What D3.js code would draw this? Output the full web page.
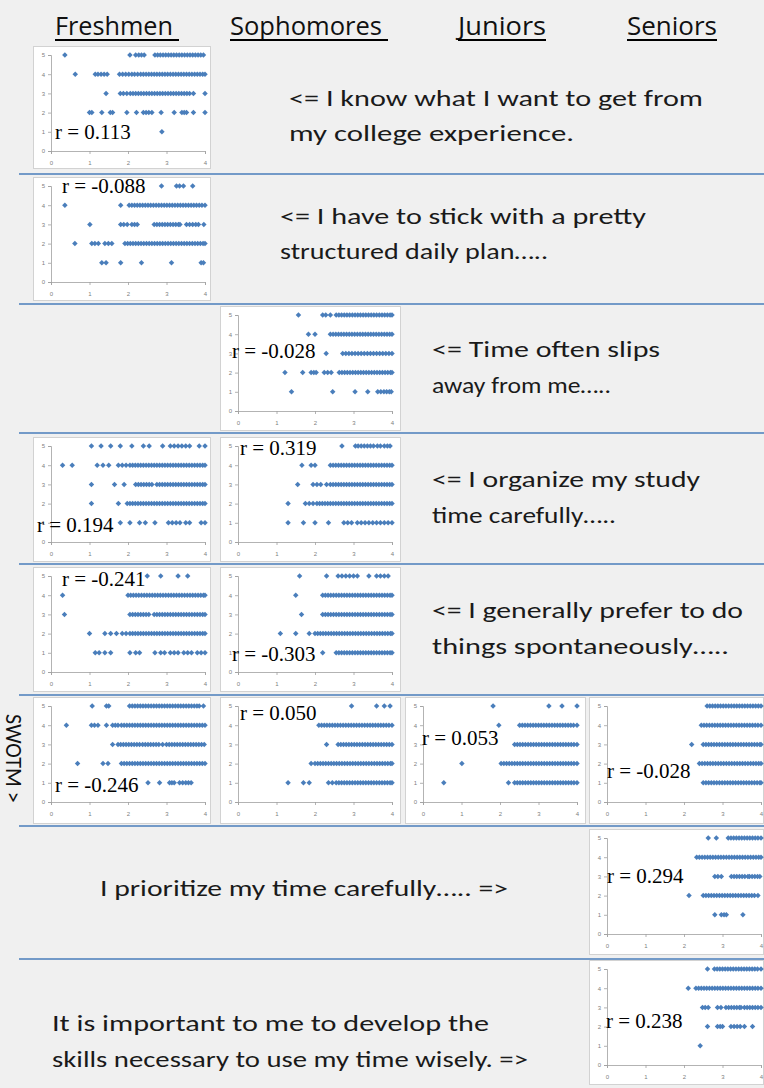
<!DOCTYPE html>
<html>
<head>
<meta charset="utf-8">
<script src="https://cdn.jsdelivr.net/npm/d3@7"></script>
<style>
  body { margin: 0; background: #f0f0f0; }
  svg { display: block; }
</style>
</head>
<body>
<div id="chart"></div>
<script>
// column headers and the statement on each row
const classes = ["Freshmen", "Sophomores", "Juniors", "Seniors"];
const xTicks = [0, 1, 2, 3, 4];
const yTicks = [0, 1, 2, 3, 4, 5];

const statements = [
  ["<= I know what I want to get from", "my college experience."],
  ["<= I have to stick with a pretty", "structured daily plan….."],
  ["<= Time often slips", "away from me….."],
  ["<= I organize my study", "time carefully….."],
  ["<= I generally prefer to do", "things spontaneously….."],
  [],
  ["I prioritize my time carefully….. =>"],
  ["It is important to me to develop the", "skills necessary to use my time wisely.  =>"]
];
const sideLabel = "SWOTM >";

// each panel: GPA values (x) listed per answer level 1..5
const knowFr = [
  [2.88],
  [1.0, 1.06, 1.32, 1.54, 1.6, 1.97, 2.22, 2.4, 2.47, 2.54, 2.62, 2.86, 3.2, 3.4, 3.46, 3.52, 3.7, 4.0],
  [1.43, 1.8, 1.88, 1.97, 2.06, 2.13, 2.2, 2.27, 2.34, 2.41, 2.48, 2.55, 2.62, 2.69, 2.76, 2.83, 2.9, 2.97, 3.04, 3.11, 3.18, 3.25, 3.32, 3.39, 3.46, 3.53, 3.6, 3.7, 4.0],
  [0.63, 1.15, 1.22, 1.3, 1.38, 1.46, 1.78, 1.86, 1.94, 2.02, 2.1, 2.17, 2.25, 2.33, 2.4, 2.47, 2.54, 2.61, 2.68, 2.75, 2.82, 2.89, 2.96, 3.03, 3.1, 3.17, 3.24, 3.31, 3.38, 3.45, 3.52, 3.59, 3.66, 3.73, 3.8, 3.87, 3.94, 4.0],
  [0.36, 2.05, 2.2, 2.28, 2.35, 2.42, 2.7, 2.77, 2.84, 2.91, 2.98, 3.05, 3.12, 3.19, 3.26, 3.33, 3.4, 3.47, 3.54, 3.61, 3.68, 3.75, 3.82, 3.89, 3.96]
];
const planFr = [
  [1.32, 1.43, 1.81, 2.35, 3.13, 3.9, 3.96],
  [0.62, 1.06, 1.14, 1.23, 1.4, 1.49, 1.58, 1.92, 1.99, 2.06, 2.13, 2.2, 2.27, 2.34, 2.41, 2.48, 2.55, 2.62, 2.69, 2.76, 2.83, 2.9, 2.97, 3.04, 3.11, 3.18, 3.25, 3.32, 3.39, 3.46, 3.53, 3.6, 3.67, 3.74, 3.81, 3.88, 3.95, 4.0],
  [1.01, 1.81, 1.89, 1.98, 2.1, 2.17, 2.24, 2.68, 2.75, 2.82, 2.89, 2.96, 3.03, 3.1, 3.17, 3.24, 3.31, 3.35, 3.52, 3.6, 3.68, 3.76, 3.83, 3.97],
  [0.36, 1.81, 2.03, 2.1, 2.17, 2.24, 2.31, 2.38, 2.45, 2.52, 2.59, 2.66, 2.73, 2.8, 2.87, 2.94, 3.01, 3.08, 3.15, 3.22, 3.29, 3.36, 3.43, 3.5, 3.57, 3.64, 3.71, 3.78, 3.85, 3.92, 4.0],
  [2.87, 3.26, 3.34, 3.44, 3.68]
];
const slipsSo = [
  [1.39, 2.46, 3.04, 3.37, 3.63, 3.71, 3.79, 3.86, 3.93, 3.98],
  [1.22, 1.68, 1.9, 1.97, 2.03, 2.24, 2.33, 2.42, 2.63, 2.7, 2.77, 2.84, 2.91, 2.98, 3.05, 3.12, 3.19, 3.26, 3.33, 3.4, 3.47, 3.54, 3.61, 3.68, 3.75, 3.82, 3.89, 3.96, 4.0],
  [2.29, 2.72, 2.8, 2.88, 2.96, 3.04, 3.12, 3.2, 3.28, 3.36, 3.44, 3.52, 3.6, 3.68, 3.76, 3.84, 3.92, 4.0],
  [1.83, 2.0, 2.4, 2.47, 2.54, 2.61, 2.68, 2.75, 2.82, 2.89, 2.96, 3.03, 3.1, 3.17, 3.24, 3.31, 3.38, 3.45, 3.52, 3.59, 3.66, 3.73, 3.8, 3.87, 3.94, 4.0],
  [1.57, 2.2, 2.28, 2.4, 2.55, 2.62, 2.69, 2.76, 2.83, 2.9, 2.97, 3.04, 3.11, 3.18, 3.25, 3.32, 3.39, 3.46, 3.53, 3.6, 3.67, 3.74, 3.81, 3.88, 3.95, 4.0]
];
const organizeFr = [
  [1.8, 2.05, 2.3, 2.45, 2.7, 3.05, 3.15, 3.25, 3.35, 3.5, 3.6, 3.9, 4.0],
  [1.05, 1.75, 1.98, 2.05, 2.12, 2.19, 2.26, 2.33, 2.4, 2.47, 2.54, 2.61, 2.68, 2.75, 2.82, 2.89, 2.96, 3.03, 3.1, 3.17, 3.24, 3.31, 3.38, 3.45, 3.52, 3.59, 3.66, 3.73, 3.8, 3.87, 3.94, 4.0],
  [1.05, 1.65, 1.9, 2.2, 2.27, 2.34, 2.41, 2.48, 2.55, 2.62, 2.75, 2.82, 2.89, 2.96, 3.03, 3.1, 3.17, 3.24, 3.31, 3.38, 3.45, 3.52, 3.59, 3.66, 3.73, 3.8, 3.87, 3.94, 4.0],
  [0.3, 0.55, 1.2, 1.35, 1.5, 1.75, 1.85, 1.95, 2.05, 2.12, 2.19, 2.26, 2.33, 2.4, 2.47, 2.54, 2.61, 2.68, 2.75, 2.82, 2.89, 2.96, 3.03, 3.1, 3.17, 3.24, 3.31, 3.38, 3.45, 3.52, 3.59, 3.66, 3.73, 3.8, 3.87, 3.94, 4.0],
  [1.05, 1.3, 1.55, 1.8, 2.1, 2.4, 2.55, 2.9, 3.1, 3.2, 3.3, 3.4, 3.5, 3.6, 3.85, 4.0]
];
const organizeSo = [
  [1.3, 1.7, 2.0, 2.35, 2.75, 2.85, 2.95, 3.1, 3.2, 3.3, 3.4, 3.5, 3.6, 3.7, 3.8, 3.9, 4.0],
  [1.3, 1.75, 1.85, 1.95, 2.05, 2.12, 2.19, 2.26, 2.33, 2.4, 2.47, 2.54, 2.61, 2.68, 2.75, 2.82, 2.89, 2.96, 3.03, 3.1, 3.17, 3.24, 3.31, 3.38, 3.45, 3.52, 3.59, 3.66, 3.73, 3.8, 3.87, 3.94, 4.0],
  [1.55, 1.95, 2.05, 2.15, 2.3, 2.4, 2.47, 2.54, 2.61, 2.68, 2.75, 2.82, 2.89, 2.96, 3.03, 3.1, 3.17, 3.24, 3.31, 3.38, 3.45, 3.52, 3.59, 3.66, 3.73, 3.8, 3.87, 3.94, 4.0],
  [1.66, 1.9, 2.0, 2.4, 2.47, 2.54, 2.61, 2.68, 2.75, 2.82, 2.89, 2.96, 3.03, 3.1, 3.17, 3.24, 3.31, 3.38, 3.45, 3.52, 3.59, 3.66, 3.73, 3.8, 3.87, 3.94, 4.0],
  [2.7, 3.05, 3.12, 3.2, 3.28, 3.36, 3.44, 3.52, 3.62, 3.7, 3.8, 3.88, 3.95]
];
const spontFr = [
  [1.15, 1.25, 1.4, 1.55, 2.05, 2.2, 2.3, 2.7, 2.85, 2.95, 3.1, 3.2, 3.3, 3.45, 3.55, 3.65, 3.8, 3.9, 4.0],
  [1.0, 1.4, 1.55, 1.7, 1.85, 1.95, 2.05, 2.12, 2.19, 2.26, 2.33, 2.4, 2.47, 2.54, 2.61, 2.68, 2.75, 2.82, 2.89, 2.96, 3.03, 3.1, 3.17, 3.24, 3.31, 3.38, 3.45, 3.52, 3.59, 3.66, 3.73, 3.8, 3.87, 3.94, 4.0],
  [0.35, 2.05, 2.12, 2.19, 2.26, 2.33, 2.4, 2.47, 2.54, 2.68, 2.75, 2.82, 2.89, 2.96, 3.03, 3.1, 3.17, 3.24, 3.31, 3.38, 3.45, 3.52, 3.59, 3.66, 3.73, 3.8, 3.87, 3.94, 4.0],
  [0.3, 2.0, 2.07, 2.14, 2.21, 2.28, 2.35, 2.42, 2.49, 2.56, 2.63, 2.7, 2.77, 2.84, 2.91, 2.98, 3.05, 3.12, 3.19, 3.26, 3.33, 3.4, 3.47, 3.54, 3.61, 3.68, 3.75, 3.82, 3.89, 3.96, 4.0],
  [2.5, 2.85, 3.3, 3.55]
];
const spontSo = [
  [2.2, 2.55, 2.62, 2.69, 2.76, 2.83, 2.9, 2.97, 3.04, 3.11, 3.18, 3.25, 3.32, 3.39, 3.46, 3.53, 3.6, 3.67, 3.74, 3.81, 3.88, 3.95, 4.0],
  [1.1, 1.5, 1.85, 2.0, 2.07, 2.14, 2.21, 2.28, 2.35, 2.42, 2.49, 2.56, 2.63, 2.7, 2.77, 2.84, 2.91, 2.98, 3.05, 3.12, 3.19, 3.26, 3.33, 3.4, 3.47, 3.54, 3.61, 3.68, 3.75, 3.82, 3.89, 3.96, 4.0],
  [1.65, 2.2, 2.27, 2.34, 2.41, 2.48, 2.55, 2.62, 2.69, 2.76, 2.83, 2.9, 2.97, 3.04, 3.11, 3.18, 3.25, 3.32, 3.39, 3.46, 3.53, 3.6, 3.67, 3.74, 3.81, 3.88, 3.95, 4.0],
  [1.5, 2.2, 2.27, 2.34, 2.41, 2.48, 2.55, 2.62, 2.69, 2.76, 2.83, 2.9, 2.97, 3.04, 3.11, 3.18, 3.25, 3.32, 3.39, 3.46, 3.53, 3.6, 3.67, 3.74, 3.81, 3.88, 3.95, 4.0],
  [1.6, 2.3, 2.6, 2.7, 2.8, 2.9, 3.0, 3.1, 3.4, 3.6, 3.7, 3.8, 3.9]
];
const swotmFr = [
  [2.52, 2.82, 3.08, 3.14, 3.2, 3.34, 3.42, 3.5, 3.57, 3.64],
  [0.69, 1.35, 1.48, 1.83, 1.9, 1.97, 2.04, 2.11, 2.18, 2.25, 2.32, 2.39, 2.46, 2.53, 2.6, 2.67, 2.74, 2.81, 2.88, 2.95, 3.02, 3.09, 3.16, 3.23, 3.3, 3.37, 3.44, 3.51, 3.58, 3.65, 3.72, 3.79, 3.86, 3.93, 4.0],
  [1.6, 1.74, 1.81, 1.88, 1.95, 2.02, 2.09, 2.16, 2.23, 2.3, 2.38, 2.45, 2.52, 2.59, 2.66, 2.73, 2.8, 2.9, 3.0, 3.07, 3.14, 3.21, 3.28, 3.35, 3.42, 3.49, 3.56, 3.63, 3.7, 3.77, 3.84, 3.91, 3.98],
  [0.4, 1.05, 1.13, 1.22, 1.44, 1.6, 1.67, 1.74, 1.83, 1.9, 1.97, 2.04, 2.11, 2.18, 2.25, 2.32, 2.39, 2.46, 2.53, 2.6, 2.67, 2.74, 2.81, 2.88, 2.95, 3.02, 3.09, 3.16, 3.23, 3.3, 3.37, 3.44, 3.51, 3.58, 3.65, 3.72, 3.79, 3.86, 3.93, 4.0],
  [1.07, 1.44, 1.5, 2.04, 2.11, 2.18, 2.25, 2.32, 2.39, 2.46, 2.53, 2.6, 2.67, 2.74, 2.81, 2.88, 2.95, 3.02, 3.09, 3.16, 3.23, 3.3, 3.37, 3.44, 3.51, 3.58, 3.65, 3.72, 3.79, 3.85, 3.96]
];
const swotmSo = [
  [1.3, 1.7, 1.85, 2.35, 2.45, 2.55, 2.62, 2.69, 2.76, 2.83, 2.9, 2.97, 3.04, 3.11, 3.18, 3.25, 3.32, 3.39, 3.46, 3.53, 3.6, 3.67, 3.74, 3.81, 3.88, 3.95, 4.0],
  [1.9, 2.0, 2.07, 2.14, 2.21, 2.28, 2.35, 2.42, 2.49, 2.56, 2.63, 2.7, 2.77, 2.84, 2.91, 2.98, 3.05, 3.12, 3.19, 3.26, 3.33, 3.4, 3.47, 3.54, 3.61, 3.68, 3.75, 3.82, 3.89, 3.96, 4.0],
  [2.3, 2.6, 2.67, 2.74, 2.81, 2.88, 2.95, 3.02, 3.09, 3.16, 3.23, 3.3, 3.37, 3.44, 3.51, 3.58, 3.65, 3.72, 3.79, 3.86, 3.93, 4.0],
  [2.1, 2.17, 2.24, 2.31, 2.38, 2.45, 2.52, 2.59, 2.66, 2.73, 2.8, 2.87, 2.94, 3.01, 3.08, 3.15, 3.22, 3.29, 3.36, 3.43, 3.5, 3.57, 3.64, 3.71, 3.78, 3.85, 3.92, 4.0],
  [2.95, 3.6, 3.8, 3.95]
];
const swotmJu = [
  [0.54, 2.22, 2.38, 2.45, 2.52, 2.59, 2.66, 2.73, 2.8, 2.87, 2.94, 3.01, 3.08, 3.15, 3.22, 3.29, 3.36, 3.43, 3.5, 3.57, 3.64, 3.71, 3.78, 3.85, 3.92, 4.0],
  [1.01, 2.03, 2.1, 2.17, 2.24, 2.31, 2.38, 2.45, 2.52, 2.59, 2.66, 2.73, 2.8, 2.87, 2.94, 3.01, 3.08, 3.15, 3.22, 3.29, 3.36, 3.43, 3.5, 3.57, 3.64, 3.71, 3.78, 3.85, 3.92, 4.0],
  [2.38, 2.45, 2.52, 2.59, 2.66, 2.73, 2.8, 2.87, 2.94, 3.01, 3.08, 3.15, 3.22, 3.29, 3.36, 3.43, 3.5, 3.57, 3.64, 3.71, 3.78, 3.85, 3.92, 4.0],
  [1.97, 2.51, 2.58, 2.65, 2.72, 2.79, 2.86, 2.93, 3.0, 3.07, 3.14, 3.21, 3.28, 3.35, 3.42, 3.49, 3.56, 3.63, 3.7, 3.77, 3.84, 3.91, 4.0],
  [1.82, 3.27, 3.61, 4.0]
];
const swotmSe = [
  [2.5, 2.57, 2.64, 2.71, 2.78, 2.85, 2.92, 2.99, 3.06, 3.13, 3.2, 3.27, 3.34, 3.41, 3.48, 3.55, 3.62, 3.69, 3.76, 3.83, 3.9, 3.97, 4.0],
  [2.4, 2.47, 2.54, 2.61, 2.68, 2.75, 2.82, 2.89, 2.96, 3.03, 3.1, 3.17, 3.24, 3.31, 3.38, 3.45, 3.52, 3.59, 3.66, 3.73, 3.8, 3.87, 3.94, 4.0],
  [2.2, 2.5, 2.57, 2.64, 2.71, 2.78, 2.85, 2.92, 2.99, 3.06, 3.13, 3.2, 3.27, 3.34, 3.41, 3.48, 3.55, 3.62, 3.69, 3.76, 3.83, 3.9, 3.97, 4.0],
  [2.45, 2.52, 2.59, 2.66, 2.73, 2.8, 2.87, 2.94, 3.01, 3.08, 3.15, 3.22, 3.29, 3.36, 3.43, 3.5, 3.57, 3.64, 3.71, 3.78, 3.85, 3.92, 4.0],
  [2.6, 2.67, 2.74, 2.81, 2.88, 2.95, 3.02, 3.09, 3.16, 3.23, 3.3, 3.37, 3.44, 3.51, 3.58, 3.65, 3.72, 3.79, 3.86, 3.93, 4.0]
];
const prioritizeSe = [
  [2.8, 2.97, 3.04, 3.1, 3.53],
  [2.13, 2.5, 2.57, 2.64, 2.71, 2.78, 2.85, 2.92, 2.99, 3.06, 3.13, 3.2, 3.27, 3.34, 3.41, 3.48, 3.55, 3.62, 3.69, 3.76, 3.83, 3.92],
  [2.8, 2.88, 2.97, 3.23, 3.3, 3.37, 3.44, 3.51, 3.58, 3.66, 3.7, 3.77, 3.84, 3.91, 3.97],
  [2.33, 2.4, 2.47, 2.54, 2.61, 2.68, 2.75, 2.82, 2.89, 2.96, 3.03, 3.1, 3.17, 3.24, 3.31, 3.38, 3.45, 3.52, 3.59, 3.66, 3.73, 3.8, 3.87, 3.94, 4.0],
  [2.63, 2.84, 3.15, 3.22, 3.29, 3.36, 3.43, 3.5, 3.57, 3.64, 3.71, 3.78, 3.85, 3.92, 4.0]
];
const skillsSe = [
  [2.42],
  [2.61, 2.87, 2.94, 3.0, 3.22, 3.3, 3.38, 3.46, 3.57, 3.78],
  [2.48, 2.55, 2.63, 2.87, 2.96, 3.09, 3.16, 3.23, 3.3, 3.37, 3.44, 3.48, 3.57, 3.64, 3.71, 3.78, 3.85, 3.92, 4.0],
  [2.11, 2.31, 2.38, 2.45, 2.52, 2.59, 2.66, 2.73, 2.8, 2.87, 2.94, 3.01, 3.08, 3.15, 3.22, 3.29, 3.36, 3.43, 3.5, 3.57, 3.64, 3.71, 3.78, 3.85, 3.92, 4.0],
  [2.61, 2.79, 2.86, 2.93, 3.0, 3.07, 3.14, 3.21, 3.28, 3.35, 3.42, 3.49, 3.56, 3.63, 3.7, 3.77, 3.84, 3.91, 4.0]
];

// correlation shown in each panel
const rLabels = ["0.113", "-0.088", "-0.028", "0.194", "0.319", "-0.241", "-0.303",
                 "-0.246", "0.050", "0.053", "-0.028", "0.294", "0.238"];

// ---- layout ----
const W = 764, H = 1088;
const rowTop = [46, 177, 306, 437, 567, 697, 829, 960];
const rowH = [123, 124, 125, 125, 125, 127, 126, 125];
const colX = [33, 220, 405, 589];
const colW = [178, 181, 181, 175];
const sepY = [174, 304, 433, 564, 695, 826, 959];

const panels = [
  { row: 0, col: 0, data: knowFr, lx: 55, ly: 139 },
  { row: 1, col: 0, data: planFr, lx: 62, ly: 193 },
  { row: 2, col: 1, data: slipsSo, lx: 232, ly: 358 },
  { row: 3, col: 0, data: organizeFr, lx: 37, ly: 532 },
  { row: 3, col: 1, data: organizeSo, lx: 240, ly: 455 },
  { row: 4, col: 0, data: spontFr, lx: 62, ly: 586 },
  { row: 4, col: 1, data: spontSo, lx: 232, ly: 661 },
  { row: 5, col: 0, data: swotmFr, lx: 55, ly: 792 },
  { row: 5, col: 1, data: swotmSo, lx: 240, ly: 720 },
  { row: 5, col: 2, data: swotmJu, lx: 422, ly: 745 },
  { row: 5, col: 3, data: swotmSe, lx: 607, ly: 778 },
  { row: 6, col: 3, data: prioritizeSe, lx: 607, ly: 883 },
  { row: 7, col: 3, data: skillsSe, lx: 606, ly: 1028 }
];

const textPos = [
  { x: 289, y: [106, 141], w: [414, 285] },
  { x: 280, y: [224, 259], w: [366, 268] },
  { x: 432, y: [357, 393], w: [228, 179] },
  { x: 432, y: [487, 523], w: [268, 184] },
  { x: 432, y: [618, 654], w: [311, 297] },
  null,
  { x: 100, y: [896], w: [408] },
  { x: 52, y: [1031, 1067], w: [437, 476] }
];

const headX = [55, 230, 458, 627];
const headW = [118, 152, 88, 90];

const svg = d3.select("#chart").append("svg")
  .attr("width", W)
  .attr("height", H);

svg.append("rect").attr("width", W).attr("height", H).attr("fill", "#f0f0f0");

// headers
classes.forEach((c, i) => {
  svg.append("text")
    .attr("x", headX[i])
    .attr("y", 35)
    .attr("font-family", "'Liberation Sans Narrow', 'Open Sans', sans-serif")
    .attr("font-size", 26)
    .attr("fill", "#111")
    .attr("textLength", headW[i])
    .attr("lengthAdjust", "spacingAndGlyphs")
    .text(c);
  svg.append("line")
    .attr("x1", headX[i]).attr("x2", headX[i] + headW[i] + (i < 2 ? 6 : 0))
    .attr("y1", 40).attr("y2", 40)
    .attr("stroke", "#000").attr("stroke-width", 2);
});

// blue row separators
svg.selectAll(".sep")
  .data(sepY)
  .enter()
  .append("line")
  .attr("class", "sep")
  .attr("x1", 19).attr("x2", W)
  .attr("y1", d => d).attr("y2", d => d)
  .attr("stroke", "#4a7ebb")
  .attr("stroke-width", 1.5);

// statements
statements.forEach((lines, i) => {
  const pos = textPos[i];
  if (!pos) return;
  lines.forEach((t, j) => {
    svg.append("text")
      .attr("x", pos.x)
      .attr("y", pos.y[j])
      .attr("font-family", "Carlito, Lato, 'Open Sans', sans-serif")
      .attr("font-size", 23)
      .attr("fill", "#1a1a1a")
      .attr("textLength", pos.w[j])
      .attr("lengthAdjust", "spacingAndGlyphs")
      .text(t);
  });
});

// side label on row 6
svg.append("text")
  .attr("transform", "translate(6,714) rotate(90)")
  .attr("font-family", "Carlito, Lato, 'Open Sans', sans-serif")
  .attr("font-size", 22)
  .attr("fill", "#111")
  .text(sideLabel);

// scatter panels
const diamond = d3.symbol().type(d3.symbolSquare).size(15);

panels.forEach((p, i) => {
  const px = colX[p.col], py = rowTop[p.row];
  const pw = colW[p.col], ph = rowH[p.row];
  const g = svg.append("g").attr("transform", `translate(${px},${py})`);

  g.append("rect")
    .attr("x", 0.5).attr("y", 0.5)
    .attr("width", pw - 1).attr("height", ph - 1)
    .attr("fill", "#fff")
    .attr("stroke", "#d2d2d2");

  const x = d3.scaleLinear().domain([0, 4]).range([18, 172]);
  const y = d3.scaleLinear().domain([0, 5]).range([105, 9]);

  const xAxis = d3.axisBottom(x).tickValues(xTicks).tickSize(3).tickFormat(d3.format("d"));
  const yAxis = d3.axisLeft(y).tickValues(yTicks).tickSize(3).tickFormat(d3.format("d"));

  const gx = g.append("g").attr("transform", `translate(0,${y(0)})`).call(xAxis);
  const gy = g.append("g").attr("transform", `translate(${x(0)},0)`).call(yAxis);
  [gx, gy].forEach(a => {
    a.select(".domain").attr("stroke", "#a0a0a0").attr("stroke-width", 0.8);
    a.selectAll(".tick line").attr("stroke", "#a0a0a0").attr("stroke-width", 0.8);
    a.selectAll(".tick text")
      .attr("fill", "#808080")
      .attr("font-size", 6)
      .attr("font-family", "Arial, sans-serif");
  });
  gx.selectAll(".tick text").attr("dy", "1.3em");

  const pts = [];
  p.data.forEach((xs, k) => xs.forEach(v => pts.push({ gpa: v, level: k + 1 })));

  g.selectAll(".pt")
    .data(pts)
    .enter()
    .append("path")
    .attr("class", "pt")
    .attr("d", diamond)
    .attr("transform", d => `translate(${x(d.gpa)},${y(d.level)}) rotate(45)`)
    .attr("fill", "#4a7ebb");

  svg.append("text")
    .attr("x", p.lx)
    .attr("y", p.ly)
    .attr("font-family", "'Liberation Serif', 'Times New Roman', serif")
    .attr("font-size", 21)
    .attr("fill", "#000")
    .text(`r = ${rLabels[i]}`);
});
</script>
</body>
</html>
